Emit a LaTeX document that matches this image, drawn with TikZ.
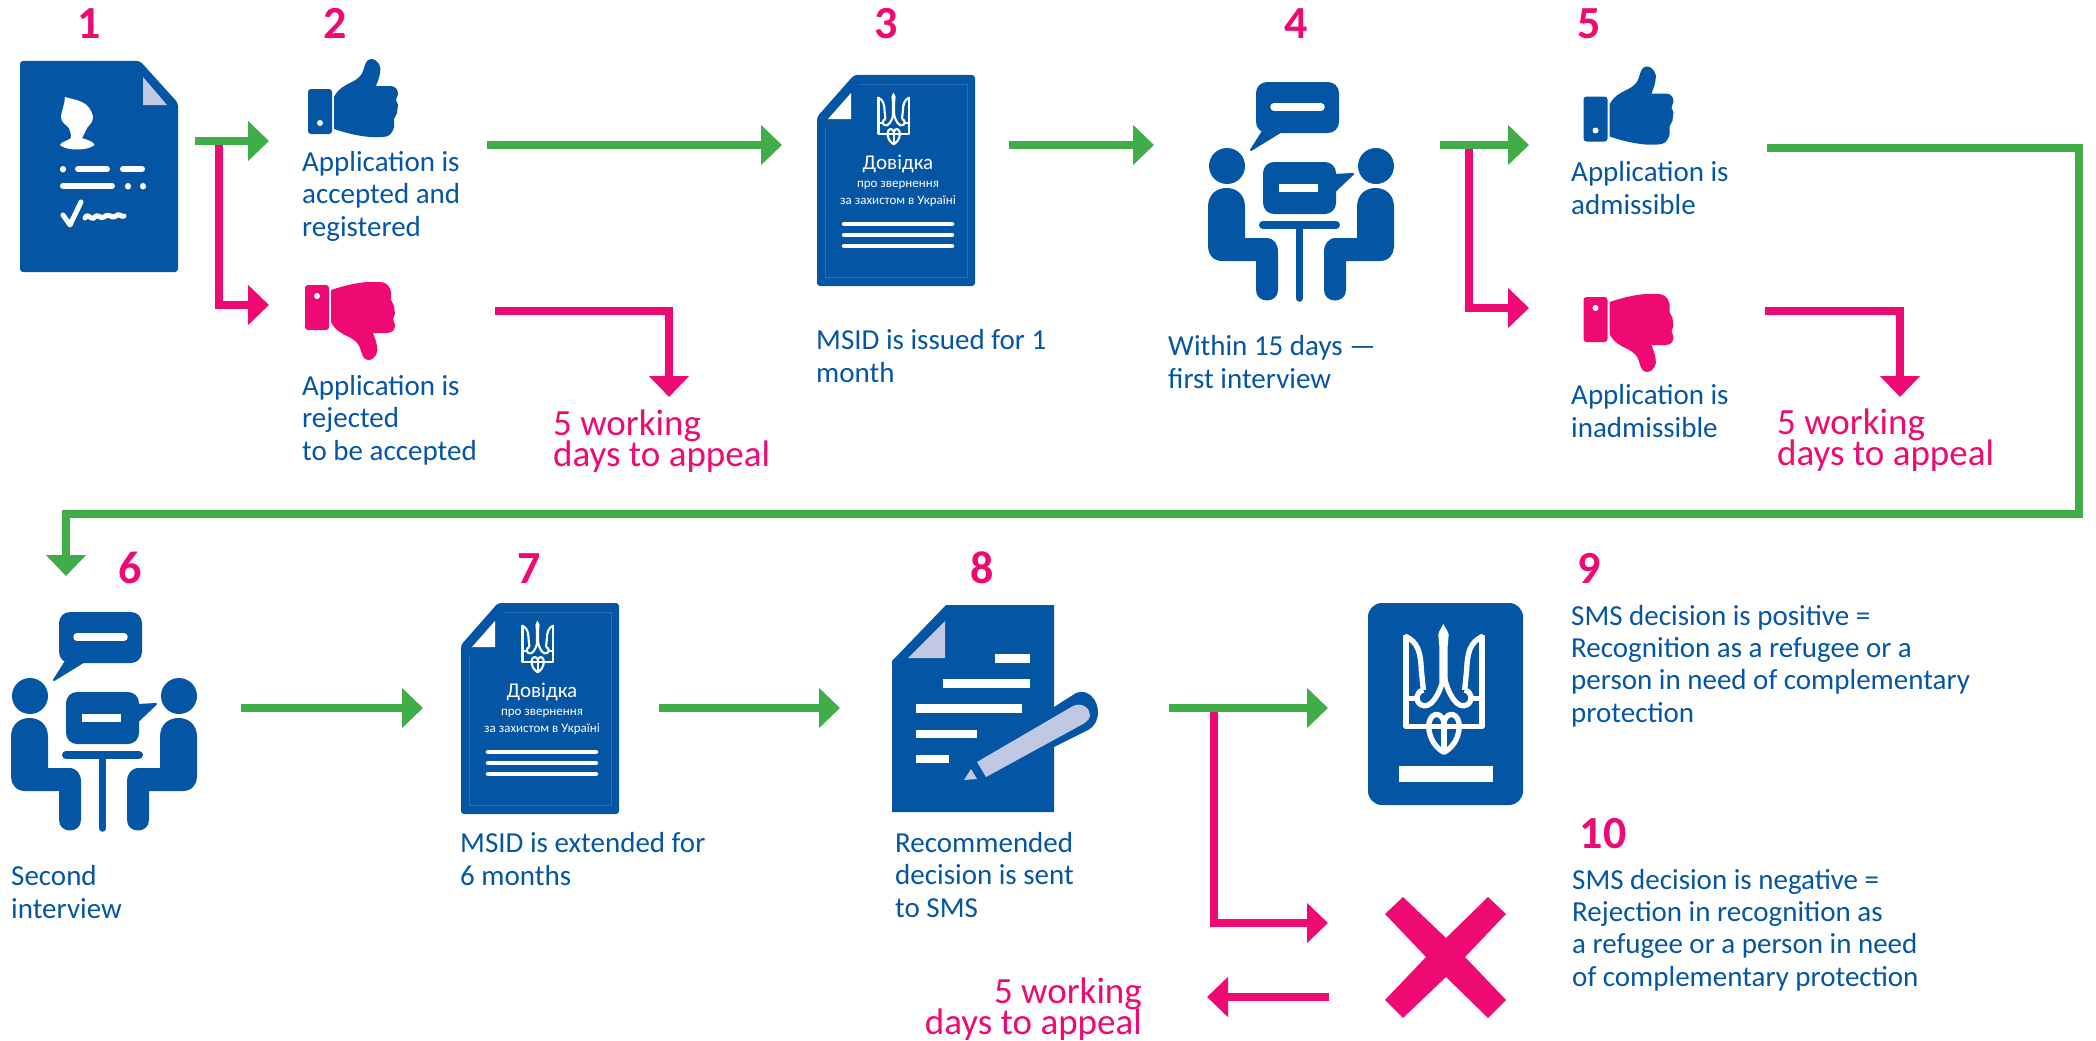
\documentclass[tikz,border=0pt]{standalone}
\usepackage{fontspec}
\setmainfont{Carlito}
\usetikzlibrary{arrows.meta}
\definecolor{docblue}{HTML}{0455A4}
\definecolor{hotpink}{HTML}{EE0A72}
\definecolor{flowgreen}{HTML}{41AD49}
\definecolor{foldblue}{HTML}{C0C8E4}
\definecolor{rimblue}{HTML}{2F6DB5}
\tikzstyle{stepnum} = [font=\fontsize{46}{46}\selectfont\bfseries, text=hotpink, inner sep=0pt, anchor=base]
\tikzstyle{caption} = [font=\fontsize{29}{32.2}\selectfont, text=docblue, inner sep=0pt, align=left, anchor=base west]
\tikzstyle{appeal} = [font={\fontsize{37}{31}\selectfont\lineskiplimit -50pt}, text=hotpink, inner sep=0pt, align=left, anchor=base west]
\tikzstyle{gline} = [line width=8pt, flowgreen, -{Triangle[length=21pt,width=39pt]}]
\tikzstyle{pline} = [line width=8pt, hotpink, -{Triangle[length=21pt,width=39pt]}]
\tikzstyle{whitebar} = [line width=4.5pt, white, line cap=round]
\tikzstyle{formbar} = [line width=6pt, white, line cap=round]
\tikzstyle{crestline} = [white, line join=round]

% crest, drawn in a 330 x 465 box
\newcommand{\crest}[3]{%
\begin{scope}[shift={(#1,#2)}, scale=#3, line width=#3*16pt]
\fill [white] (160,42) .. controls (166,55) and (176,65) .. (176,75) -- (173,110) -- (173,215) -- (148,215) -- (148,110) -- (145,75) .. controls (145,65) and (154,55) .. (160,42) -- cycle;
\draw [crestline] (48,74) -- (48,349) -- (276,349) -- (276,74);
\draw [crestline] (44,78) .. controls (85,95) and (92,130) .. (94,180) -- (100,240);
\draw [crestline] (280,78) .. controls (239,95) and (232,130) .. (230,180) -- (224,240);
\draw [crestline] (100,240) .. controls (78,245) and (74,272) .. (92,284) .. controls (122,302) and (150,250) .. (160,205);
\draw [crestline] (224,240) .. controls (246,245) and (250,272) .. (232,284) .. controls (202,302) and (174,250) .. (164,205);
\draw [crestline] (48,266) -- (80,266);
\draw [crestline] (276,266) -- (244,266);
\draw [crestline] (116,349) .. controls (116,312) and (150,298) .. (162,335) .. controls (174,298) and (208,312) .. (208,349);
\draw [crestline] (116,349) .. controls (118,390) and (140,415) .. (162,427) .. controls (184,415) and (206,390) .. (208,349);
\draw [crestline] (162,335) -- (162,425);
\end{scope}}

\tikzset{
  pics/thumb/.style={code={
    \fill [#1, rounded corners=3pt] (0,30) rectangle (24,75);
    \fill [white] (12,64) circle [radius=3pt];
    \fill [#1] (26,38) .. controls (30,30) and (37,26) .. (44,23) .. controls (50,20) and (54,16) .. (55,12) .. controls (57,6) and (58,0) .. (63,0) .. controls (70,0) and (74,8) .. (72,14) .. controls (71,20) and (69,24) .. (68,27) -- (82,27) .. controls (88,27) and (90,31) .. (90,35) -- (88,41) -- (90,46) -- (89,54) -- (86,60) -- (86,68) .. controls (84,76) and (80,78) .. (74,78) -- (62,78) .. controls (50,77) and (38,74) .. (26,70) -- cycle;
  }},
  pics/certificate/.style={code={
    \fill [docblue, rounded corners=3pt] (37,0) -- (158,0) -- (158,211) -- (0,211) -- (0,42) -- cycle;
    \draw [rimblue, line width=0.7pt] (43,9) -- (150,9) -- (150,202) -- (8.5,202) -- (8.5,52);
    \fill [white] (34,18) -- (34,44) -- (11,44) -- cycle;
    \crest{55}{12}{0.134}
    \node (-title) [inner sep=0pt, text=white, anchor=base, font=\fontsize{21}{21}\selectfont] at (81,94) {Довідка};
    \node (-sub) [inner sep=0pt, text=white, anchor=base, font=\fontsize{13}{13}\selectfont] at (81,112) {про звернення};
    \node (-subb) [inner sep=0pt, text=white, anchor=base, font=\fontsize{13}{13}\selectfont] at (81,129) {за захистом в Україні};
    \foreach \y in {149,160,171} {
      \draw [whitebar] (27,\y) -- (135,\y);
    }
  }},
  pics/meeting/.style={code={
    \fill [docblue, rounded corners=11pt] (48,0) rectangle (131,51);
    \fill [docblue, line join=round, draw=docblue, line width=2pt] (55,49) -- (43,68) -- (74,49) -- cycle;
    \draw [line width=7.5pt, white, line cap=round] (66,25) -- (113,25);
    \fill [docblue] (19,84) circle [radius=18pt];
    \fill [docblue] (168,84) circle [radius=18pt];
    \foreach \t in {0,1} {
      \begin{scope}[xshift=\t*186pt, xscale=1-2*\t]
        \fill [docblue] (0,125) .. controls (0,112) and (9,106) .. (18.5,106) .. controls (28,106) and (37,112) .. (37,125) -- (37,156) -- (58,156) .. controls (66,156) and (70,162) .. (70,170) -- (70,208) .. controls (70,222) and (48,222) .. (48,208) -- (48,179) -- (14,179) .. controls (5,179) and (0,172) .. (0,165) -- cycle;
      \end{scope}
    }
    \fill [docblue, rounded corners=11pt] (55,80) rectangle (128,132);
    \fill [docblue, line join=round, draw=docblue, line width=2pt] (126,93) -- (145,92) -- (126,110) -- cycle;
    \fill [white] (71,102) rectangle (110,110);
    \draw [line width=8pt, docblue, line cap=round] (55,143) -- (128,143);
    \draw [line width=7.6pt, docblue, line cap=round] (91.5,143) -- (91.5,216);
  }}
}

\begin{document}
\begin{tikzpicture}[x=1pt, y=-1pt]
\useasboundingbox (0,0) rectangle (2096,1041);

%% NODES

\node (num1) [stepnum] at (89,39) {1};
\node (num2) [stepnum] at (335,39) {2};
\node (num3) [stepnum] at (886,39) {3};
\node (num4) [stepnum] at (1296,39) {4};
\node (num5) [stepnum] at (1589,39) {5};
\node (num6) [stepnum] at (130,583) {6};
\node (num7) [stepnum] at (529,583) {7};
\node (num8) [stepnum] at (982,583) {8};
\node (num9) [stepnum] at (1589,583) {9};
\node (num10) [stepnum] at (1603,848) {10};

\node (txt2a) [caption] at (302,236) {Application is\\accepted and\\registered};
\node (txt2b) [caption] at (302,460) {Application is\\rejected\\to be accepted};
\node (txt3) [caption] at (816,382) {MSID is issued for 1\\month};
\node (txt4) [caption] at (1168,388) {Within 15 days —\\first interview};
\node (txt5a) [caption] at (1571,214) {Application is\\admissible};
\node (txt5b) [caption] at (1571,437) {Application is\\inadmissible};
\node (txt6) [caption] at (11,918) {Second\\interview};
\node (txt7) [caption] at (460,885) {MSID is extended for\\6 months};
\node (txt8) [caption] at (895,917) {Recommended\\decision is sent\\to SMS};
\node (txt9) [caption] at (1571,722) {SMS decision is positive =\\Recognition as a refugee or a\\person in need of complementary\\protection};
\node (txt10) [caption] at (1572,986) {SMS decision is negative =\\Rejection in recognition as\\a refugee or a person in need\\of complementary protection};

\node (app2) [appeal] at (553,466) {5 working\\days to appeal};
\node (app5) [appeal] at (1777,465) {5 working\\days to appeal};
\node (app9) [appeal, align=right, anchor=base east] at (1142,1034) {5 working\\days to appeal};

%% ICONS

\fill [docblue, rounded corners=3pt] (20,61) -- (140,61) -- (178,103) -- (178,272) -- (20,272) -- cycle;
\fill [foldblue] (143,77) -- (143,105) -- (167,105) -- cycle;
\fill [white] (65,97) .. controls (74,100) and (90,100) .. (93,117) .. controls (93,123) and (89,125) .. (87,128) .. controls (85,132) and (84,135) .. (82,138) .. controls (88,140) and (94,142) .. (94.5,145) .. controls (88,151) and (66,151) .. (60,145) .. controls (62,141) and (68,141) .. (71,138) .. controls (71,133) and (70,131) .. (69,128) .. controls (65,124) and (61,122) .. (61,117) .. controls (61,112) and (65,104) .. (65,97) -- cycle;
\draw [formbar] (63,169) -- (63,169.5);
\draw [formbar] (78,169) -- (107,169);
\draw [formbar] (123,169) -- (142,169);
\draw [formbar] (63,186) -- (112,186);
\draw [formbar] (128,186) -- (128,186.5);
\draw [formbar] (143,186) -- (143,186.5);
\draw [white, line width=5pt, line join=round, line cap=round] (63,215) -- (70,225) -- (81,202);
\draw [white, line width=5pt, line join=round, line cap=round] (85,218) .. controls (88,212) and (90,220) .. (94,218) .. controls (98,212) and (100,220) .. (104,217) .. controls (110,212) and (112,220) .. (116,216) .. controls (119,212) and (121,218) .. (124,216);

\pic at (308,59) {thumb=docblue};
\pic [yscale=-1] at (305,360) {thumb=hotpink};
\pic at (1583.5,66.5) {thumb=docblue};
\pic [yscale=-1] at (1583.5,372) {thumb=hotpink};

\pic (msid3) at (817,75) {certificate};
\pic (msid7) at (461,603) {certificate};
\pic at (1208,82) {meeting};
\pic at (11,612) {meeting};

\fill [docblue] (946,605) -- (1054,605) -- (1054,812) -- (892,812) -- (892,661) -- cycle;
\fill [foldblue] (945,621) -- (945,658) -- (908,658) -- cycle;
\fill [white] (995,654) rectangle (1030,663);
\fill [white] (943,679) rectangle (1030,688);
\fill [white] (916,704) rectangle (1022,713);
\fill [white] (916,730) rectangle (977,738);
\fill [white] (916,755) rectangle (949,763);
\fill [docblue] (1054,707) -- (1076,693) .. controls (1088,688) and (1098,700) .. (1098,712) .. controls (1098,720) and (1095,726) .. (1088,730) -- (1054,747) -- cycle;
\fill [foldblue] (977,762) -- (1073,706) .. controls (1082,702) and (1090,708) .. (1090,715) .. controls (1090,718) and (1088,721) .. (1083,724) -- (986,777) -- cycle;
\fill [foldblue] (964,780) -- (971,769) -- (977,779) -- cycle;

\fill [docblue, rounded corners=14pt] (1368,603) rectangle (1523,805);
\crest{1390}{610}{0.3333}
\fill [white] (1399,766) rectangle (1493,782);

\fill [hotpink] (1403,897) -- (1446,938) -- (1488,897) -- (1506,914) -- (1465,957) -- (1506,1000) -- (1488,1018) -- (1446,977) -- (1403,1018) -- (1385,1000) -- (1426,957) -- (1385,914) -- cycle;

%% ARROWS

\coordinate (a1s) at (195,141);
\coordinate (a1e) at (269,141);
\coordinate (a1b) at (219,141);
\coordinate (a1r) at (269,305);
\coordinate (a2s) at (487,145);
\coordinate (a2e) at (782,145);
\coordinate (r2s) at (495,311);
\coordinate (r2e) at (669,397);
\coordinate (a3s) at (1009,145);
\coordinate (a3e) at (1154,145);
\coordinate (a4s) at (1440,145);
\coordinate (a4e) at (1529,145);
\coordinate (a4b) at (1469,145);
\coordinate (a4r) at (1529,308);
\coordinate (a5s) at (1767,148);
\coordinate (a5e) at (66,576);
\coordinate (r5s) at (1765,311);
\coordinate (r5e) at (1900,397);
\coordinate (a6s) at (241,708);
\coordinate (a6e) at (423,708);
\coordinate (a7s) at (659,708);
\coordinate (a7e) at (840,708);
\coordinate (a8s) at (1169,708);
\coordinate (a8e) at (1328,708);
\coordinate (a8b) at (1214,708);
\coordinate (a8r) at (1328,923);
\coordinate (a9s) at (1329,997);
\coordinate (a9e) at (1207,997);

\draw [pline] (a1b) |- (a1r);
\draw [gline] (a1s) -- (a1e);
\draw [gline] (a2s) -- (a2e);
\draw [pline] (r2s) -| (r2e);
\draw [gline] (a3s) -- (a3e);
\draw [pline] (a4b) |- (a4r);
\draw [gline] (a4s) -- (a4e);
\draw [gline] (a5s) -- (2079,148) -- (2079,514) -- (66,514) -- (a5e);
\draw [pline] (r5s) -| (r5e);
\draw [gline] (a6s) -- (a6e);
\draw [gline] (a7s) -- (a7e);
\draw [pline] (a8b) |- (a8r);
\draw [gline] (a8s) -- (a8e);
\draw [pline] (a9s) -- (a9e);

\end{tikzpicture}
\end{document}
